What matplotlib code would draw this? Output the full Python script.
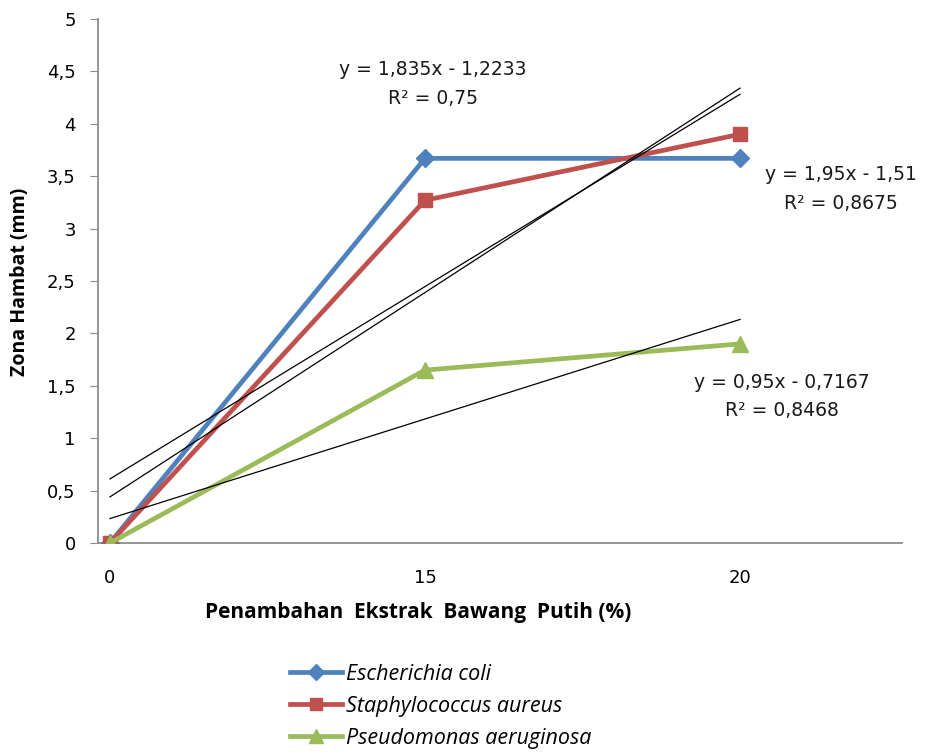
import numpy as np
import matplotlib
matplotlib.use("Agg")
import matplotlib.pyplot as plt
from matplotlib.lines import Line2D

# Data
categories = ["0", "15", "20"]
e_coli = [0.0, 3.67, 3.67]
s_aureus = [0.0, 3.27, 3.9]
p_aeruginosa = [0.0, 1.65, 1.9]
series_names = ["Escherichia coli", "Staphylococcus aureus", "Pseudomonas aeruginosa"]
y_ticks = [0, 0.5, 1, 1.5, 2, 2.5, 3, 3.5, 4, 4.5, 5]

colors = ["#4F81BD", "#C0504D", "#9BBB59"]
markers = ["D", "s", "^"]
msizes = [9, 10, 11]

fig = plt.figure(figsize=(9.25, 7.56), dpi=100)
ax = fig.add_axes([0.1059, 0.2817, 0.8692, 0.6932])

x = np.arange(1, len(categories) + 1)
all_series = [e_coli, s_aureus, p_aeruginosa]

for ys, c, m, ms in zip(all_series, colors, markers, msizes):
    ax.plot(x, ys, color=c, lw=3.4, marker=m, ms=ms, mec=c, mfc=c, zorder=3,
            solid_joinstyle="round")

# Linear trendlines fitted on category index
fits = []
for ys in all_series:
    slope, intercept = np.polyfit(x, ys, 1)
    pred = slope * x + intercept
    ss_res = np.sum((np.array(ys) - pred) ** 2)
    ss_tot = np.sum((np.array(ys) - np.mean(ys)) ** 2)
    r2 = 1 - ss_res / ss_tot
    fits.append((slope, intercept, r2))
    ax.plot(x, pred, color="black", lw=0.9, zorder=4)

def fmt(v, nd):
    s = f"{v:.{nd}f}".rstrip("0").rstrip(".")
    return s.replace(".", ",")

eq_pos = [(2.025, 4.38), (3.321, 3.378), (3.133, 1.398)]
eq_digits = [(3, 4), (2, 2), (2, 4)]
for (slope, intercept, r2), (px, py), (d1, d2) in zip(fits, eq_pos, eq_digits):
    sign = "-" if intercept < 0 else "+"
    txt = f"y = {fmt(slope, d1)}x {sign} {fmt(abs(intercept), d2)}\nR² = {fmt(r2, 4)}"
    ax.text(px, py, txt, ha="center", va="center", fontsize=13.5,
            family="DejaVu Sans", color="#1a1a1a", linespacing=1.65)

ax.set_xlim(0.962, 3.514)
ax.set_ylim(0, 5)
ax.set_yticks(y_ticks)
ax.set_yticklabels([fmt(v, 1) for v in y_ticks], fontsize=13, family="DejaVu Sans")
ax.set_xticks(x)
ax.set_xticklabels(categories, fontsize=13, family="DejaVu Sans")
ax.tick_params(axis="x", length=0, pad=19)
ax.tick_params(axis="y", length=6, color="#8c8c8c", pad=10)

for side in ["top", "right"]:
    ax.spines[side].set_visible(False)
for side in ["left", "bottom"]:
    ax.spines[side].set_color("#8c8c8c")
    ax.spines[side].set_linewidth(1.3)

fig.text(20 / 925, 0.627, "Zona Hambat (mm)", rotation=90, ha="center", va="center",
         fontsize=14, fontweight="bold", family="Open Sans")
fig.text(0.452, 0.190, "Penambahan  Ekstrak  Bawang  Putih (%)", ha="center", va="center",
         fontsize=15, fontweight="bold", family="Open Sans")

handles = [Line2D([0], [0], color=c, lw=3.4, marker=m, ms=ms - 1, mec=c, mfc=c)
           for c, m, ms in zip(colors, markers, msizes)]
leg = fig.legend(handles, series_names, loc="upper left", bbox_to_anchor=(290 / 925, 1 - 664 / 756),
                 frameon=False, handlelength=2.4, handletextpad=0.22, labelspacing=0.5,
                 prop={"family": "Open Sans", "style": "italic", "size": 15.5},
                 borderaxespad=0, borderpad=0)

fig.savefig("out.png", dpi=100)
